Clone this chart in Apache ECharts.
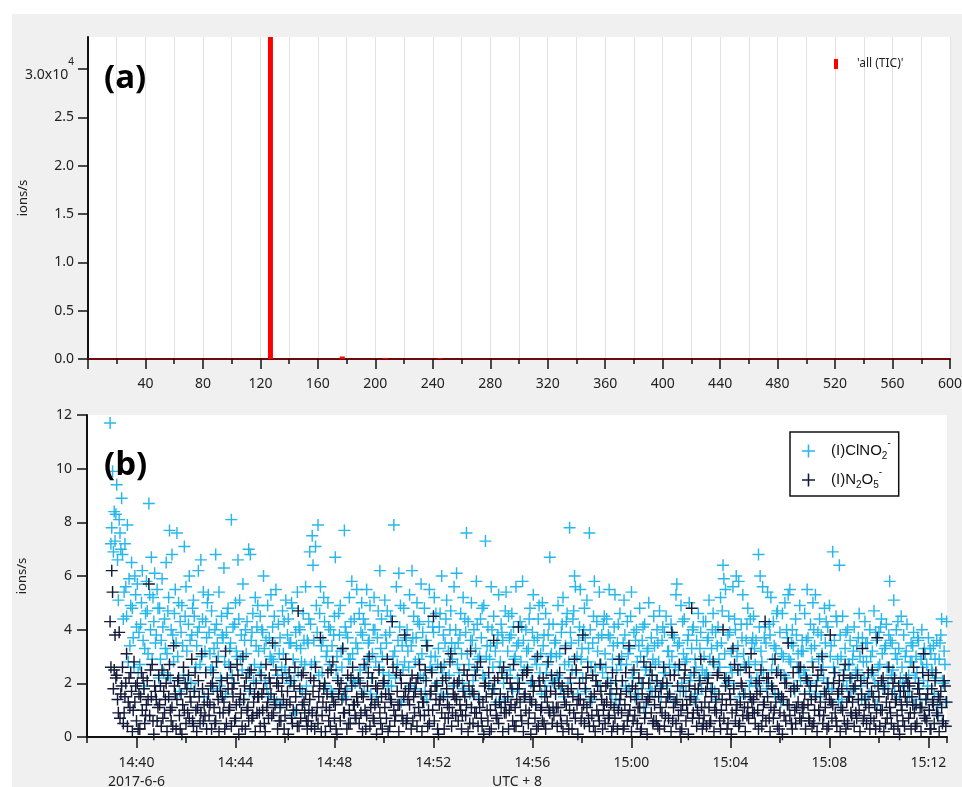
<!DOCTYPE html>
<html>
<head>
<meta charset="utf-8">
<script src="https://cdn.jsdelivr.net/npm/echarts@6/dist/echarts.min.js"></script>
<style>
html, body { margin: 0; padding: 0; background: #fff; }
#wrap { position: relative; width: 962px; height: 787px; }
#bg { position: absolute; left: 12px; top: 14px; width: 950px; height: 773px; background: #f0f0f0; }
#chart { position: absolute; left: 0; top: 0; width: 962px; height: 787px; }
</style>
</head>
<body>
<div id="wrap"><div id="bg"></div><div id="chart"></div></div>
<script>
// (a) 质谱 TIC: m/z 与 ions/s
var ticMz = [127, 177, 207, 245];
var ticVal = [150000, 260, 110, 90];
var aYTicks = [0, 5000, 10000, 15000, 20000, 25000, 30000];

// (b) 时间序列, 2 s 采样, 起点 14:38:56 (秒数从 14:38:00 算起)
var tStart = 56;
var tStep = 2;
var tBase = 14 * 60 + 38; // 分钟
var bLabelTicks = [120, 360, 600, 840, 1080, 1320, 1560, 1800, 2040];
var bDate = '2017-6-6';

// 每行 2 分钟 (60 个点)
var clno2 = [
  11.7,7.2,7.8, 9.9,6.9,8.4, 7.3,8.3,9.4, 6.6,5.1,8.1, 7.6,7.0,8.9, 6.8,4.4,5.4, 7.2,5.6,4.5, 7.9,2.8,5.9, 3.4,4.9,6.5, 4.8,3.7,2.6, 6.0,5.3,4.1, 5.7,2.4,3.9, 2.7,4.2,5.0, 6.2,3.6,1.9, 3.3,4.6,5.8, 4.7,3.1,8.7, 5.3,4.0,6.7, 2.9,5.2,4.3, 6.1,3.5,3.8, 5.5,4.8,2.2,
  4.8,2.9,3.6, 5.9,4.1,2.4, 4.4,3.3,6.5, 3.1,4.7,5.2, 7.7,2.2,4.0, 6.8,3.8,2.8, 4.6,5.5,3.5, 7.6,3.0,5.0, 1.7,4.3,3.9, 4.9,3.4,2.3, 7.1,4.5,5.6, 3.2,2.0,4.2, 6.0,3.6,2.0, 3.8,4.8,5.1, 4.5,1.8,2.6, 3.4,3.9,6.2, 4.1,2.7,6.6, 3.0,4.4,5.4, 1.5,3.2,4.3, 3.7,5.0,5.3,
  3.9,3.1,2.5, 4.7,2.6,1.8, 3.3,4.0,6.8, 4.2,3.5,3.0, 5.4,1.9,2.2, 4.5,3.8,3.7, 6.3,2.8,1.6, 3.9,4.6,4.8, 2.7,3.3,3.5, 8.1,2.3,4.1, 2.0,4.2,5.0, 3.2,3.0,6.6, 4.4,5.1,2.9, 3.8,2.5,5.7, 1.4,3.6,4.0, 3.1,4.3,2.4, 7.0,1.7,6.8, 3.6,3.9,4.6, 2.1,2.7,5.2, 3.4,4.1,4.9,
  3.2,2.4,4.5, 2.6,4.0,3.9, 6.0,3.3,2.1, 3.6,1.8,4.9, 1.5,3.7,3.0, 5.3,2.9,4.1, 2.8,4.5,3.4, 5.5,1.3,2.3, 4.2,3.1,3.7, 1.2,2.6,4.7, 3.1,4.3,2.5, 5.1,2.2,3.8, 4.4,3.5,2.0, 3.5,5.0,4.8, 2.9,2.1,0.9, 3.9,3.4,5.4, 2.4,4.1,4.0, 3.3,2.8,1.7, 4.6,3.6,2.7, 5.6,1.9,3.6,
  3.5,4.4,6.9, 4.2,2.7,7.5, 6.4,3.6,2.8, 7.1,4.9,3.9, 7.9,2.3,4.6, 5.6,3.4,2.4, 3.6,5.2,4.3, 1.9,3.0,3.2, 5.0,4.1,2.7, 4.0,1.7,3.4, 1.6,3.8,4.5, 6.7,2.5,3.0, 2.2,4.6,3.8, 4.9,3.2,2.6, 3.3,1.5,7.7, 4.1,3.9,1.8, 3.7,2.9,5.2, 2.9,4.3,5.8, 3.1,2.1,4.4, 2.0,3.5,5.5,
  3.3,2.1,4.6, 2.5,3.9,5.0, 3.8,4.4,1.7, 4.2,2.6,5.5, 2.9,3.5,3.6, 4.9,1.6,2.2, 3.1,4.0,5.2, 4.0,2.8,1.5, 3.7,4.7,2.6, 6.2,3.3,4.4, 3.0,2.4,2.0, 5.1,3.8,3.5, 4.7,1.9,2.3, 3.9,4.5,1.9, 4.3,3.0,7.9, 3.2,2.2,5.6, 2.7,3.6,6.1, 4.1,4.9,1.3, 3.4,2.5,4.8, 2.8,3.7,3.6,
  4.0,3.2,2.6, 5.3,1.9,3.4, 6.2,3.7,4.5, 1.8,2.8,3.7, 5.0,4.3,2.9, 4.2,2.3,5.7, 3.1,3.9,2.2, 4.8,1.7,3.6, 1.4,3.4,4.3, 5.5,2.6,3.0, 2.5,4.1,3.9, 5.2,3.0,4.6, 2.0,2.7,3.3, 4.1,4.6,1.6, 6.0,2.4,3.8, 2.7,3.5,4.4, 5.1,1.5,3.2, 2.3,4.0,4.7, 3.5,2.9,1.9, 5.6,3.3,4.0,
  6.1,2.7,3.5, 2.4,3.8,4.6, 3.1,2.0,5.2, 1.8,4.4,3.9, 7.6,3.1,4.3, 2.7,1.6,3.6, 5.0,3.6,2.1, 4.0,2.5,3.3, 5.8,4.2,2.9, 1.5,3.0,4.4, 3.7,4.8,2.3, 4.9,2.2,7.3, 3.0,3.4,4.1, 1.9,2.9,3.4, 5.6,4.0,2.6, 4.5,1.8,3.2, 1.3,3.5,3.8, 5.3,2.6,2.8, 4.2,3.9,3.6, 2.0,1.4,4.7,
  5.4,2.3,3.2, 4.5,3.7,2.5, 3.8,4.6,1.7, 4.1,2.9,3.0, 5.6,3.4,2.2, 3.5,1.8,4.3, 2.8,4.1,5.8, 3.6,2.5,1.5, 4.0,3.2,2.6, 3.3,4.4,4.8, 2.0,2.1,3.9, 5.3,3.6,2.9, 1.2,2.7,3.7, 4.4,4.9,2.4, 3.1,1.6,5.0, 3.4,3.8,1.9, 4.6,2.4,2.7, 3.8,4.2,6.7, 3.0,3.1,2.1, 4.2,2.0,3.5,
  3.6,3.0,2.3, 4.9,2.2,3.1, 1.8,3.9,4.2, 5.2,1.5,2.7, 3.4,4.3,4.6, 2.0,2.8,7.8, 3.9,3.5,2.5, 4.4,4.7,6.0, 5.6,2.4,3.0, 1.6,3.6,4.1, 5.5,2.9,3.3, 2.2,4.0,4.8, 3.7,1.7,5.1, 2.8,3.3,7.6, 4.0,2.6,1.4, 3.5,4.5,5.8, 2.6,2.1,4.3, 3.2,3.7,5.4, 1.9,2.7,3.8, 2.4,4.2,4.5,
  3.1,2.6,4.4, 2.2,3.8,5.5, 3.7,2.0,1.6, 2.9,3.4,4.1, 5.3,1.4,2.5, 3.5,4.2,1.2, 4.6,2.7,3.0, 2.1,3.5,5.1, 3.8,1.9,2.7, 4.3,3.1,1.8, 3.3,4.5,5.4, 2.4,2.2,3.9, 1.5,3.6,4.0, 2.8,1.6,3.4, 4.8,3.0,2.0, 3.6,4.1,1.1, 4.2,2.5,2.6, 3.2,3.3,5.0, 2.3,1.8,3.7, 1.7,2.9,4.5,
  3.4,2.7,2.1, 4.0,3.5,2.8, 4.7,1.9,1.5, 3.6,4.1,2.4, 3.9,2.4,4.5, 1.9,3.2,3.2, 2.7,1.5,4.2, 3.0,3.8,1.3, 3.7,2.6,5.3, 5.7,3.4,2.5, 3.5,1.7,4.9, 2.0,4.3,3.1, 4.4,2.8,1.7, 2.9,3.6,3.8, 5.0,2.1,2.3, 3.3,4.0,4.1, 1.4,2.9,2.6, 3.6,1.6,4.6, 2.2,3.3,3.9, 1.8,2.5,4.3,
  3.0,2.3,4.3, 2.4,3.6,3.7, 5.1,2.9,1.8, 3.3,4.0,4.6, 2.7,1.7,3.9, 1.4,3.4,4.1, 2.9,2.6,5.2, 3.5,4.7,6.4, 5.9,3.1,5.5, 2.2,2.0,3.8, 4.5,3.9,2.6, 3.2,2.4,5.6, 1.9,4.4,4.0, 6.0,3.0,3.4, 5.8,1.5,2.5, 4.2,3.7,5.3, 3.1,2.7,1.6, 3.6,4.2,4.8, 2.8,1.9,4.4, 2.1,3.5,3.7,
  4.5,3.3,2.7, 3.6,2.2,1.9, 6.8,4.1,6.0, 3.2,2.8,5.6, 2.4,3.7,4.1, 3.5,1.8,5.4, 2.0,4.2,3.8, 5.2,2.5,2.9, 4.3,3.4,1.6, 3.3,4.6,4.7, 2.5,1.5,3.9, 1.3,3.1,4.6, 3.0,2.3,5.0, 2.2,4.0,3.7, 5.3,2.9,5.5, 2.8,3.5,4.0, 3.4,1.9,1.7, 4.4,3.8,2.6, 3.1,2.4,4.9, 2.1,3.2,3.6,
  3.2,2.5,4.6, 2.3,3.6,5.5, 3.7,2.0,1.7, 4.2,3.3,2.8, 5.0,4.0,3.4, 5.3,1.6,2.1, 3.9,2.9,4.4, 1.5,3.8,3.1, 2.6,2.2,4.8, 3.5,4.3,2.0, 4.1,1.8,4.9, 3.0,3.4,1.8, 6.9,2.6,3.6, 2.4,4.5,4.3, 2.9,1.3,6.4, 3.8,3.0,1.4, 4.5,2.1,2.5, 3.3,3.9,1.9, 4.0,2.7,2.7, 3.6,1.7,2.2,
  2.9,3.2,4.1, 1.8,2.4,3.4, 2.5,3.7,4.6, 3.0,1.9,1.4, 3.7,2.8,2.2, 4.3,3.5,2.8, 3.5,1.5,1.6, 4.0,3.0,2.4, 3.2,2.3,4.7, 2.0,3.9,3.6, 1.2,2.6,3.9, 2.7,4.1,4.4, 3.1,1.8,1.9, 3.3,3.4,4.2, 2.6,2.0,3.8, 5.8,3.6,2.3, 3.5,2.5,5.1, 1.7,3.1,4.0, 2.9,4.3,3.3, 1.5,2.2,4.5,
  2.6,2.0,3.8, 1.9,3.0,3.2, 4.2,1.7,2.3, 1.5,2.8,3.5, 2.8,3.4,3.9, 1.2,2.2,3.0, 2.4,3.7,3.6, 1.8,1.4,2.9, 4.0,2.6,2.1, 3.3,3.1,1.4, 2.7,1.9,3.7, 1.0,3.3,3.1, 2.5,2.4,3.4, 1.6,2.9,2.2, 3.6,1.2,0.8, 2.9,3.5,3.8, 4.4,2.1,2.0, 3.2,2.7,1.3, 4.3,1.5,2.6, 1.7,3.0,3.5
];

var n2o5 = [
  4.3,2.6,6.2, 5.4,1.8,2.5, 3.8,2.2,2.3, 1.4,0.9,3.9, 0.7,1.6,1.9, 2.6,0.5,0.9, 1.5,2.0,3.1, 0.4,1.3,2.2, 1.1,2.4,1.7, 0.2,1.0,2.8, 1.3,1.9,0.6, 2.0,0.3,1.6, 0.3,1.5,2.4, 1.0,2.2,1.8, 0.5,0.8,1.2, 2.1,1.4,5.7, 0.8,2.5,1.5, 2.7,0.6,0.1, 1.9,1.7,1.4, 0.6,1.1,2.3,
  1.2,1.9,0.4, 2.5,0.7,1.7, 0.9,1.4,2.0, 0.2,2.3,1.5, 2.7,1.0,0.6, 1.1,0.4,3.4, 1.9,1.6,0.3, 1.4,2.1,2.2, 0.8,0.3,1.6, 0.1,1.2,2.6, 1.0,2.0,0.5, 1.8,0.9,2.3, 0.7,1.5,1.3, 2.9,0.6,0.4, 1.7,2.4,1.0, 0.2,1.1,2.1, 1.5,0.5,0.9, 3.1,1.8,0.6, 1.2,0.8,2.4, 0.3,1.3,1.6,
  0.8,1.2,1.9, 0.3,2.0,2.4, 1.1,0.5,0.6, 2.8,1.7,1.4, 0.2,0.9,1.7, 2.1,1.5,0.9, 1.3,0.3,3.2, 0.5,2.2,1.8, 1.0,1.1,2.6, 0.4,1.8,1.5, 2.0,0.6,0.7, 1.2,2.7,2.3, 0.1,1.3,1.6, 0.9,0.4,3.0, 1.4,1.9,0.3, 2.2,1.0,1.1, 0.6,2.4,1.8, 2.5,0.7,0.8, 1.3,1.6,0.2, 2.0,0.9,1.5,
  1.5,0.9,0.4, 2.3,1.6,1.0, 1.8,0.5,0.2, 2.7,1.1,1.3, 0.7,2.2,2.0, 1.6,0.8,3.5, 0.9,1.4,1.2, 2.5,2.0,0.3, 1.9,0.6,1.1, 0.6,1.7,2.2, 1.4,0.3,0.8, 2.9,1.2,1.7, 0.1,2.4,1.3, 2.1,0.7,0.5, 1.0,1.9,2.6, 1.5,1.0,0.4, 4.7,0.4,1.8, 0.7,2.3,1.2, 2.4,1.3,0.9, 1.6,0.6,0.3,
  0.6,1.0,1.4, 2.2,0.4,0.9, 1.7,2.1,0.3, 2.6,0.8,1.1, 0.5,1.5,1.9, 3.7,0.2,0.8, 1.3,1.8,2.0, 0.2,1.1,1.6, 2.4,0.6,1.0, 0.4,2.5,1.5, 2.8,1.3,0.7, 1.2,0.3,0.1, 2.1,1.6,1.8, 0.6,2.0,1.4, 3.3,0.9,0.9, 1.7,1.4,0.3, 2.3,0.5,1.0, 0.5,2.2,1.9, 2.6,1.2,1.2, 0.8,0.7,1.5,
  1.3,2.2,0.5, 2.0,0.9,1.6, 0.2,1.5,2.7, 1.0,0.3,0.8, 1.9,2.4,3.0, 0.4,1.1,1.4, 2.2,0.7,0.6, 1.2,1.9,0.1, 1.8,1.3,2.5, 0.9,0.5,1.5, 0.3,2.0,2.1, 1.1,1.6,0.7, 2.9,0.2,1.6, 0.4,1.4,1.3, 4.3,2.6,1.0, 0.6,0.8,2.4, 1.7,1.2,0.2, 1.2,2.3,2.0, 0.8,0.6,1.5, 3.8,1.7,0.5,
  0.7,1.4,1.8, 1.2,2.0,0.3, 2.3,0.6,1.5, 0.9,1.7,2.0, 0.4,2.2,1.1, 2.7,0.8,1.6, 0.2,1.3,1.3, 0.8,2.5,2.1, 3.4,0.4,1.0, 0.5,1.6,1.7, 2.4,1.0,4.5, 0.6,1.9,1.4, 1.9,0.3,0.1, 1.2,1.4,2.6, 0.9,2.1,1.5, 0.3,0.7,2.2, 1.8,1.2,0.7, 1.1,2.8,3.1, 0.4,0.9,1.6, 2.0,1.5,0.8,
  1.4,2.0,0.6, 2.1,1.2,1.0, 0.3,0.8,1.7, 2.5,1.5,0.8, 1.2,2.3,0.2, 1.9,0.5,3.2, 1.1,1.7,0.5, 1.6,0.9,2.3, 0.9,2.6,0.4, 1.4,1.1,2.8, 0.7,0.4,1.3, 0.1,1.9,2.0, 1.5,1.0,0.6, 2.4,0.2,1.0, 0.3,1.6,1.8, 3.6,2.1,1.2, 0.8,0.7,2.2, 0.5,1.3,1.6, 1.1,2.4,0.2, 2.6,0.9,1.3,
  0.9,2.2,1.5, 0.3,1.0,2.0, 1.2,1.8,0.6, 2.7,0.4,1.1, 0.4,1.4,1.8, 4.1,2.0,1.3, 0.8,0.6,2.3, 0.2,1.5,1.6, 1.0,2.4,2.5, 0.5,0.9,1.4, 0.1,1.3,2.1, 1.7,1.9,0.7, 1.2,0.3,3.0, 0.4,2.1,1.9, 1.0,1.1,0.6, 2.2,0.5,1.5, 0.3,1.7,1.3, 2.8,1.0,0.9, 1.7,2.3,0.5, 1.1,0.8,2.0,
  1.6,1.1,0.4, 1.1,2.0,2.4, 0.8,0.5,1.9, 0.2,1.6,1.3, 3.3,1.2,0.6, 1.7,0.3,1.0, 2.2,1.8,0.3, 1.5,0.9,2.9, 0.7,2.5,1.2, 0.1,1.4,2.0, 1.4,0.6,0.9, 3.8,1.2,0.5, 1.8,2.2,1.1, 2.6,0.7,0.4, 1.3,1.5,0.8, 2.3,0.4,1.6, 0.2,2.1,1.0, 1.9,0.8,0.6, 2.7,1.7,1.4, 0.3,1.0,1.2,
  0.5,1.9,1.3, 2.0,0.7,0.8, 1.6,1.2,0.2, 2.4,0.4,1.1, 0.7,2.1,1.8, 0.3,1.0,2.9, 1.4,1.6,0.9, 2.1,0.3,0.4, 1.2,2.4,1.7, 0.6,0.8,3.4, 1.0,1.5,0.2, 1.9,0.6,2.5, 0.8,1.8,1.4, 0.5,1.1,2.2, 1.1,0.2,0.3, 1.6,2.0,2.8, 0.7,0.9,1.3, 0.1,1.4,2.0, 1.5,2.6,0.9, 2.3,0.5,0.6,
  1.2,1.7,0.6, 2.1,0.4,1.5, 0.3,1.1,1.8, 0.9,2.0,2.6, 0.4,0.8,1.3, 2.0,1.5,0.7, 1.6,2.3,0.2, 3.9,0.6,1.1, 2.3,1.3,0.5, 1.4,1.9,0.8, 2.7,0.2,1.0, 0.3,1.2,1.7, 2.2,2.5,0.6, 1.2,0.9,0.1, 1.9,1.4,1.5, 4.8,0.7,0.9, 2.4,1.8,1.3, 0.4,1.0,1.8, 0.7,2.1,2.9, 1.1,0.3,0.5,
  0.8,1.3,1.7, 0.4,2.0,2.2, 1.1,0.5,0.6, 1.5,1.8,2.8, 0.2,1.0,1.3, 0.9,2.3,2.4, 1.6,0.6,0.3, 1.0,1.4,4.0, 0.7,2.2,1.9, 1.2,0.3,0.5, 2.1,1.6,1.4, 0.1,0.9,3.3, 1.8,2.7,0.6, 1.0,1.2,2.5, 0.4,0.5,1.3, 2.0,1.9,0.8, 1.6,1.1,0.2, 2.6,0.8,1.1, 0.7,2.4,1.5, 3.1,1.3,0.9,
  1.4,0.9,0.5, 2.0,1.6,1.0, 0.3,2.1,1.7, 2.5,0.4,0.8, 1.2,1.3,4.3, 0.6,2.2,1.5, 2.2,0.7,0.2, 1.1,1.9,1.8, 0.7,1.0,2.9, 1.3,2.4,0.4, 1.6,0.3,0.9, 2.3,1.5,0.1, 1.4,0.8,2.0, 0.6,2.0,1.2, 3.5,1.2,0.8, 1.7,0.5,0.3, 2.4,1.8,1.0, 0.5,1.1,1.9, 1.3,2.6,0.7, 2.6,0.6,1.1,
  0.9,1.2,1.6, 0.3,2.2,2.1, 1.2,0.7,0.6, 1.9,1.4,0.4, 2.6,0.5,1.0, 1.5,1.9,0.2, 2.3,1.0,0.8, 1.3,2.5,3.0, 0.5,0.8,1.7, 1.1,1.6,0.3, 2.0,0.4,1.4, 3.8,1.3,0.7, 1.2,2.0,2.4, 0.9,0.6,0.4, 1.6,1.7,2.1, 0.2,1.1,1.8, 1.0,2.3,0.6, 2.7,0.3,1.3, 0.5,1.5,1.5, 2.2,0.9,0.8,
  1.3,1.8,0.4, 1.9,0.9,0.7, 2.3,1.4,1.0, 0.2,2.1,1.6, 3.3,0.6,0.8, 1.4,1.2,0.5, 2.0,2.4,1.1, 0.3,0.7,1.7, 2.5,1.5,0.6, 1.2,0.3,0.9, 3.7,1.9,1.5, 0.4,1.0,2.1, 1.0,2.2,0.2, 1.8,0.5,1.3, 0.7,1.6,2.6, 1.1,0.9,0.5, 1.6,2.0,0.3, 2.2,1.3,1.4, 0.8,0.4,1.9, 0.1,1.7,1.2,
  1.0,0.6,1.7, 0.4,1.5,2.2, 1.3,2.0,0.7, 1.9,0.9,0.3, 1.5,1.2,2.6, 0.9,0.4,1.2, 0.5,1.8,2.0, 1.6,1.1,0.2, 1.1,2.4,3.1, 0.8,0.7,1.4, 0.6,1.6,2.3, 1.0,0.3,0.3, 1.8,1.3,1.2, 0.5,2.1,2.4, 0.9,0.8,1.5, 0.2,1.4,1.7, 1.1,0.5,0.6, 2.1,1.9,0.4, 1.3,1.0,0.8, 1.6,2.2,0.7
];

var FONT = '"Noto Sans", sans-serif';
var LIGHT = '#1cb3ea';
var DARK = '#131a3b';
var PLUS = 'path://M4.4,0H5.6V4.4H10V5.6H5.6V10H4.4V5.6H0V4.4H4.4Z';

// 把数组配成 [x, y]
const pairs = (xs, ys) => xs.map((x, i) => [x, ys[i]]);
const timed = ys => ys.map((y, i) => [tStart + i * tStep, y]);

const hhmm = sec => {
    const m = tBase + Math.round(sec / 60);
    const h = Math.floor(m / 60), mm = m % 60;
    return h + ':' + (mm < 10 ? '0' : '') + mm;
};

const axisLine = { lineStyle: { color: '#111', width: 2 } };
const labelStyle = { fontFamily: FONT, fontSize: 14, color: '#222' };
const nameStyle = { fontFamily: FONT, fontSize: 13, color: '#222' };
const panelTitle = { fontFamily: '"Open Sans", sans-serif', fontSize: 33, fontWeight: 'bold', color: '#000' };

var chart = echarts.init(document.getElementById('chart'), null, { renderer: 'canvas' });

chart.setOption({
    animation: false,
    backgroundColor: 'transparent',
    title: [
        { text: '(a)', left: 104, top: 62, padding: 0, textStyle: panelTitle },
        { text: '(b)', left: 104, top: 449, padding: 0, textStyle: panelTitle }
    ],
    legend: [
        {
            data: ["'all (TIC)'"], left: 829, top: 53, icon: 'rect', itemWidth: 4, itemHeight: 10,
            textStyle: { fontFamily: FONT, fontSize: 12, color: '#222', padding: [0, 0, 0, 14] }
        },
        {
            data: ['ClNO2', 'N2O5'], orient: 'vertical', left: 790, top: 432,
            padding: [6, 8, 6, 12], itemGap: 6, itemWidth: 13, itemHeight: 13,
            borderColor: '#111', borderWidth: 1.5, backgroundColor: '#fff',
            formatter: name => name === 'ClNO2' ? '{n|(I)ClNO}{sub|2}{sup|-}' : '{n|(I)N}{sub|2}{n|O}{sub|5}{sup|-}',
            textStyle: {
                padding: [0, 0, 0, 11],
                rich: {
                    n: { fontFamily: '"Liberation Sans", sans-serif', fontSize: 15, color: '#111' },
                    sub: { fontFamily: '"Liberation Sans", sans-serif', fontSize: 10, color: '#111', padding: [10, 0, 0, 0] },
                    sup: { fontFamily: '"Liberation Sans", sans-serif', fontSize: 10, color: '#111', padding: [0, 0, 16, 0] }
                }
            }
        }
    ],
    grid: [
        { left: 88, top: 37, width: 862, height: 322, show: true, backgroundColor: '#fff', borderWidth: 0, outerBoundsMode: 'none', containLabel: false },
        { left: 87, top: 415, width: 860, height: 322, show: true, backgroundColor: '#fff', borderWidth: 0, outerBoundsMode: 'none', containLabel: false }
    ],
    xAxis: [
        {
            gridIndex: 0, type: 'value', min: 0, max: 600, interval: 40,
            axisLine: { lineStyle: { color: '#6e0b0b', width: 2 } },
            axisTick: { length: 10, lineStyle: { color: '#111', width: 1.5 } },
            minorTick: { show: true, splitNumber: 2, length: 5, lineStyle: { color: '#111', width: 1.5 } },
            splitLine: { show: true, lineStyle: { color: '#e2e2e2', width: 1 } },
            minorSplitLine: { show: true, lineStyle: { color: '#e2e2e2', width: 1 } },
            axisLabel: Object.assign({ margin: 18, formatter: v => v === 0 ? '' : String(v) }, labelStyle)
        },
        {
            gridIndex: 1, type: 'value', min: 0, max: 2085, interval: 120, position: 'bottom',
            axisLine: axisLine,
            axisTick: { length: 6, lineStyle: { color: '#111', width: 1.5 } },
            splitLine: { show: false },
            axisLabel: Object.assign({
                margin: 17, lineHeight: 19, customValues: bLabelTicks,
                formatter: v => v === bLabelTicks[0] ? hhmm(v) + '\n' + bDate : hhmm(v)
            }, labelStyle),
            name: 'UTC + 8', nameLocation: 'middle', nameGap: 38, nameMoveOverlap: false,
            nameTextStyle: labelStyle
        },
        {
            // 长刻度 (每 4 分钟)
            gridIndex: 1, type: 'value', min: 0, max: 2085, position: 'bottom',
            axisLine: { show: false },
            axisTick: { customValues: bLabelTicks, length: 11, lineStyle: { color: '#111', width: 1.5 } },
            axisLabel: { show: false },
            splitLine: { show: false }
        }
    ],
    yAxis: [
        {
            gridIndex: 0, type: 'value', min: 0, max: 33300,
            axisLine: Object.assign({ show: true }, axisLine),
            axisTick: { show: true, length: 10, customValues: aYTicks, lineStyle: { color: '#111', width: 1.5 } },
            splitLine: { show: false },
            axisLabel: Object.assign({
                margin: 14, customValues: aYTicks,
                formatter: v => v === 30000 ? '{m|3.0x10}{e|4}' : (v / 10000).toFixed(1),
                rich: {
                    m: { fontFamily: FONT, fontSize: 14, color: '#222', padding: [12, 0, 0, 0] },
                    e: { fontFamily: FONT, fontSize: 10, color: '#222', padding: [0, 0, 14, 0] }
                }
            }, labelStyle),
            name: 'ions/s', nameLocation: 'middle', nameGap: 58, nameMoveOverlap: false,
            nameTextStyle: nameStyle
        },
        {
            gridIndex: 1, type: 'value', min: 0, max: 12, interval: 2,
            axisLine: Object.assign({ show: true }, axisLine),
            axisTick: { show: true, length: 10, lineStyle: { color: '#111', width: 1.5 } },
            splitLine: { show: false },
            axisLabel: Object.assign({ margin: 15 }, labelStyle),
            name: 'ions/s', nameLocation: 'middle', nameGap: 58, nameMoveOverlap: false,
            nameTextStyle: nameStyle
        }
    ],
    series: [
        {
            name: "'all (TIC)'", type: 'bar', xAxisIndex: 0, yAxisIndex: 0,
            barWidth: 5, itemStyle: { color: '#ff0000' },
            data: pairs(ticMz, ticVal)
        },
        {
            name: 'ClNO2', type: 'scatter', xAxisIndex: 1, yAxisIndex: 1,
            symbol: PLUS, symbolSize: 12,
            itemStyle: { color: LIGHT, opacity: 0.95 },
            data: timed(clno2)
        },
        {
            name: 'N2O5', type: 'scatter', xAxisIndex: 1, yAxisIndex: 1,
            symbol: PLUS, symbolSize: 12,
            itemStyle: { color: DARK, opacity: 1 },
            data: timed(n2o5)
        }
    ]
});
</script>
</body>
</html>
